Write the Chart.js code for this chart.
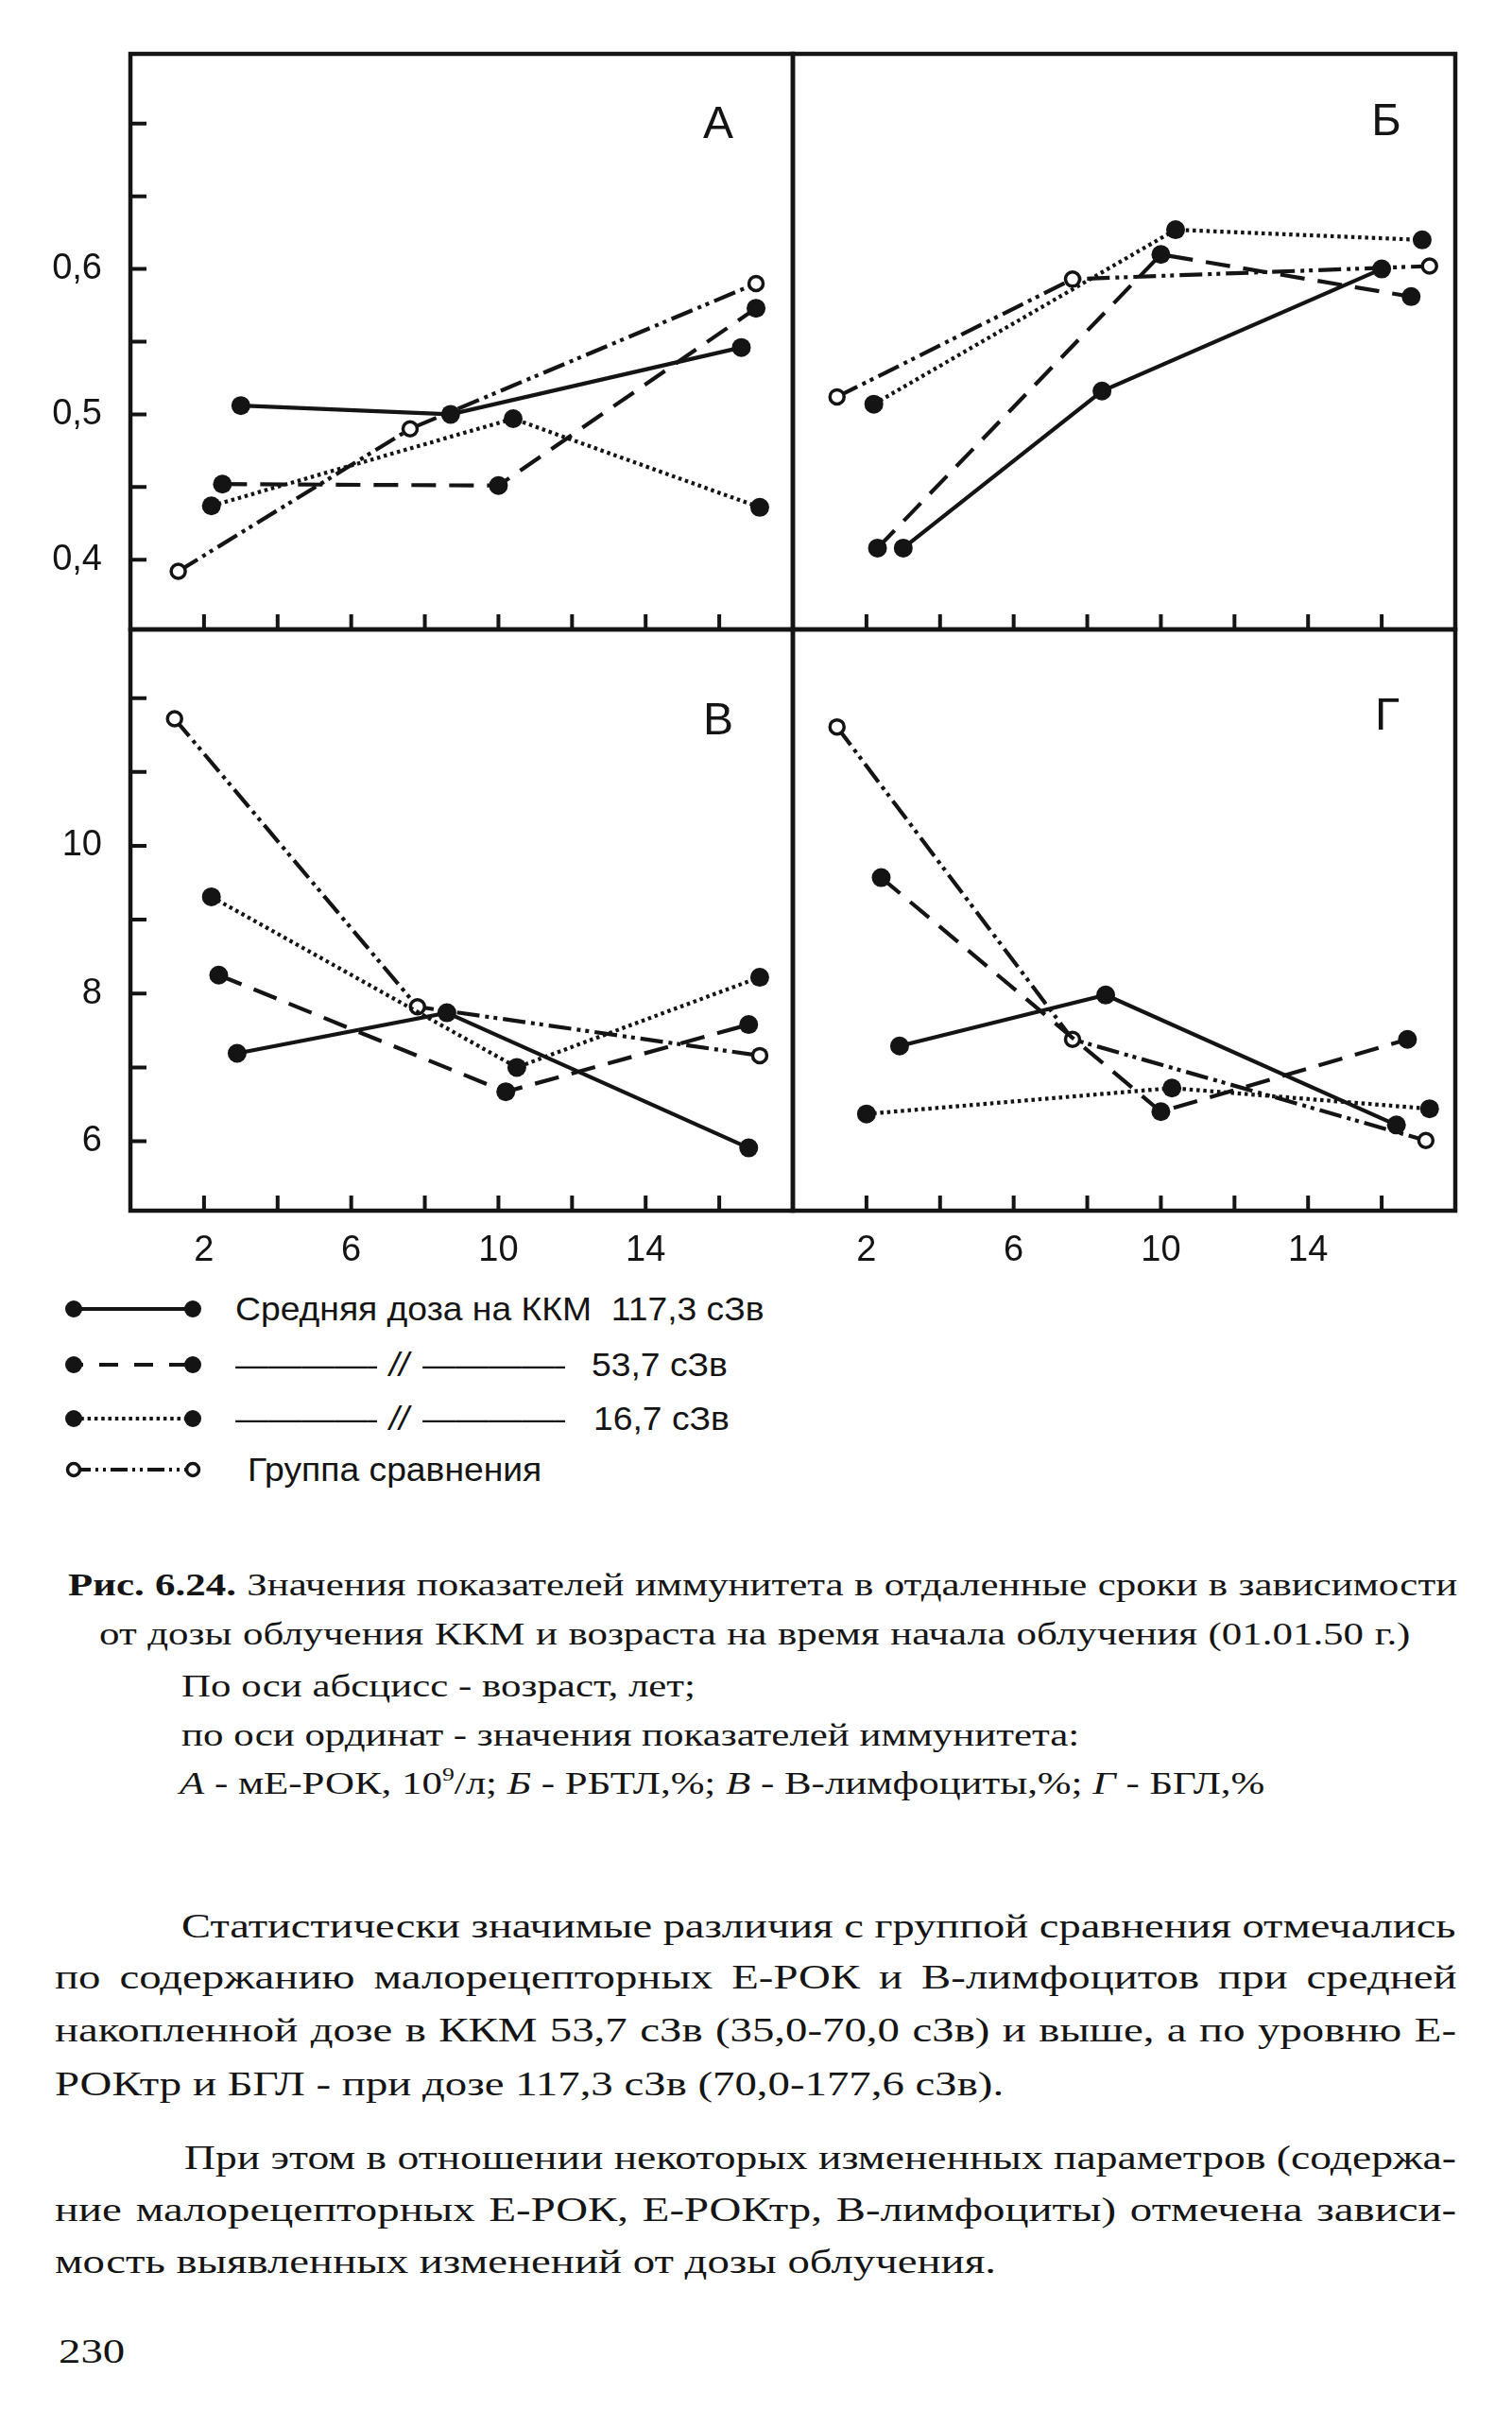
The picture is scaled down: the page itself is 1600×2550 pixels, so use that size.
<!DOCTYPE html>
<html lang="ru"><head><meta charset="utf-8">
<script src="https://cdn.jsdelivr.net/npm/chart.js@4.4.1/dist/chart.umd.min.js"></script>
<style>
html,body{margin:0;padding:0;background:#fff}
body{width:1600px;height:2550px;position:relative;overflow:hidden;color:#141414}
canvas.pn{position:absolute}
.let{position:absolute;font-family:"Liberation Sans",Arial,sans-serif;font-size:48px;line-height:48px;transform:translateX(-50%)}
.lg{position:absolute;font-family:"Liberation Sans",Arial,sans-serif;font-size:35px;line-height:40px;white-space:nowrap;transform:scaleX(1.065);transform-origin:0 50%}
.dl{position:absolute;overflow:hidden;white-space:nowrap;font-family:"Liberation Sans",Arial,sans-serif;font-size:35px;line-height:40px}
.sw{position:absolute}
.tx{position:absolute;font-family:"Liberation Serif","Times New Roman",serif;white-space:nowrap;line-height:40px;transform-origin:0 50%}
.cap{font-size:33px}
.bd{font-size:36px}
sup{font-size:0.6em;line-height:0;vertical-align:0.7em}
</style></head><body>
<canvas id="pA" class="pn" width="842" height="670" style="left:0;top:0"></canvas>
<canvas id="pB" class="pn" width="764" height="670" style="left:836px;top:0"></canvas>
<canvas id="pV" class="pn" width="842" height="700" style="left:0;top:662px"></canvas>
<canvas id="pG" class="pn" width="764" height="700" style="left:836px;top:662px"></canvas>

<div class="let" style="left:760px;top:106px">А</div>
<div class="let" style="left:1467px;top:103px">Б</div>
<div class="let" style="left:760px;top:737px">В</div>
<div class="let" style="left:1468px;top:732px">Г</div>

<svg class="sw" style="left:64px;top:1369px" width="156" height="32">
 <line x1="14" y1="16" x2="140" y2="16" stroke="#141414" stroke-width="3.8"/>
 <circle cx="14" cy="16" r="9" fill="#141414"/><circle cx="140" cy="16" r="9" fill="#141414"/>
</svg>
<svg class="sw" style="left:64px;top:1428px" width="156" height="32">
 <line x1="14" y1="16" x2="140" y2="16" stroke="#141414" stroke-width="4" stroke-dasharray="10 17 20 17 20 17 20 17"/>
 <circle cx="14" cy="16" r="9" fill="#141414"/><circle cx="140" cy="16" r="9" fill="#141414"/>
</svg>
<svg class="sw" style="left:64px;top:1485px" width="156" height="32">
 <line x1="14" y1="16" x2="140" y2="16" stroke="#141414" stroke-width="4" stroke-dasharray="3.5 3.8"/>
 <circle cx="14" cy="16" r="9" fill="#141414"/><circle cx="140" cy="16" r="9" fill="#141414"/>
</svg>
<svg class="sw" style="left:64px;top:1539px" width="156" height="32">
 <line x1="14" y1="16" x2="140" y2="16" stroke="#141414" stroke-width="4" stroke-dasharray="18 5 3 5 3 5"/>
 <circle cx="14" cy="16" r="6.5" fill="#fff" stroke="#141414" stroke-width="3.5"/><circle cx="140" cy="16" r="6.5" fill="#fff" stroke="#141414" stroke-width="3.5"/>
</svg>

<div class="lg" style="left:249px;top:1365px">Средняя доза на ККМ&nbsp; 117,3 сЗв</div>
<div class="dl" style="left:249px;top:1424px;width:150px">——————</div>
<div class="lg" style="left:412px;top:1424px"><i>//</i></div>
<div class="dl" style="left:447px;top:1424px;width:151px">——————</div>
<div class="lg" style="left:626px;top:1424px">53,7 сЗв</div>
<div class="dl" style="left:249px;top:1481px;width:150px">——————</div>
<div class="lg" style="left:412px;top:1481px"><i>//</i></div>
<div class="dl" style="left:447px;top:1481px;width:151px">——————</div>
<div class="lg" style="left:628px;top:1481px">16,7 сЗв</div>
<div class="lg" style="left:262px;top:1535px">Группа сравнения</div>

<div class="tx cap" data-w="1470" style="left:72px;top:1657px"><b>Рис. 6.24.</b> Значения показателей иммунитета в отдаленные сроки в зависимости</div>
<div class="tx cap" data-w="1388" style="left:105px;top:1709px">от дозы облучения ККМ и возраста на время начала облучения (01.01.50 г.)</div>
<div class="tx cap" style="left:192px;top:1764px">По оси абсцисс - возраст, лет;</div>
<div class="tx cap" style="left:192px;top:1816px">по оси ординат - значения показателей иммунитета:</div>
<div class="tx cap" style="left:190px;top:1867px"><i>А</i> - мЕ-РОК, 10<sup>9</sup>/л; <i>Б</i> - РБТЛ,%; <i>В</i> - В-лимфоциты,%; <i>Г</i> - БГЛ,%</div>

<div class="tx bd" data-w="1349" style="left:192px;top:2018px">Статистически значимые различия с группой сравнения отмечались</div>
<div class="tx bd" data-w="1483" style="left:58px;top:2072px">по содержанию малорецепторных Е-РОК и В-лимфоцитов при средней</div>
<div class="tx bd" data-w="1483" style="left:58px;top:2128px">накопленной дозе в ККМ 53,7 сЗв (35,0-70,0 сЗв) и выше, а по уровню Е-</div>
<div class="tx bd" style="left:58px;top:2185px">РОКтр и БГЛ - при дозе 117,3 сЗв (70,0-177,6 сЗв).</div>
<div class="tx bd" data-w="1346" style="left:195px;top:2263px">При этом в отношении некоторых измененных параметров (содержа-</div>
<div class="tx bd" data-w="1483" style="left:58px;top:2318px">ние малорецепторных Е-РОК, Е-РОКтр, В-лимфоциты) отмечена зависи-</div>
<div class="tx bd" style="left:58px;top:2373px">мость выявленных изменений от дозы облучения.</div>
<div class="tx bd" style="left:62px;top:2468px">230</div>

<script>
// ---- axis ticks ----
const ageTicks = [2, 4, 6, 8, 10, 12, 14, 16];
const ageTickLabels = ['2', '', '6', '', '10', '', '14', ''];
const topTicks = [0.4, 0.45, 0.5, 0.55, 0.6, 0.65, 0.7];
const topTickLabels = ['0,4', '', '0,5', '', '0,6', '', ''];
const bottomTicks = [6, 7, 8, 9, 10, 11, 12];
const bottomTickLabels = ['6', '', '8', '', '10', '', ''];

const seriesNames = ['Средняя доза на ККМ 117,3 сЗв', '53,7 сЗв', '16,7 сЗв', 'Группа сравнения'];

// ---- Panel А: мЕ-РОК, 10^9/л ----
const ageA117 = [3.0, 8.7, 16.6],  valA117 = [0.506, 0.500, 0.546];
const ageA54  = [2.5, 10.0, 17.0], valA54  = [0.452, 0.451, 0.573];
const ageA17  = [2.2, 10.4, 17.1], valA17  = [0.437, 0.497, 0.436];
const ageAcmp = [1.3, 7.6, 17.0],  valAcmp = [0.392, 0.490, 0.590];

// ---- Panel Б: РБТЛ, % ----
const ageB117 = [3.0, 8.4, 16.0],  valB117 = [0.408, 0.516, 0.600];
const ageB54  = [2.3, 10.0, 16.8], valB54  = [0.408, 0.610, 0.581];
const ageB17  = [2.2, 10.4, 17.1], valB17  = [0.507, 0.627, 0.620];
const ageBcmp = [1.2, 7.6, 17.3],  valBcmp = [0.512, 0.593, 0.602];

// ---- Panel В: В-лимфоциты, % ----
const ageV117 = [2.9, 8.6, 16.8],  valV117 = [7.19, 7.74, 5.91];
const ageV54  = [2.4, 10.2, 16.8], valV54  = [8.25, 6.67, 7.58];
const ageV17  = [2.2, 10.5, 17.1], valV17  = [9.31, 7.00, 8.22];
const ageVcmp = [1.2, 7.8, 17.1],  valVcmp = [11.72, 7.82, 7.16];

// ---- Panel Г: БГЛ, % ----
const ageG117 = [2.9, 8.5, 16.4],  valG117 = [7.29, 7.98, 6.22];
const ageG54  = [2.4, 10.0, 16.7], valG54  = [9.57, 6.40, 7.38];
const ageG17  = [2.0, 10.3, 17.3], valG17  = [6.37, 6.72, 6.44];
const ageGcmp = [1.2, 7.6, 17.2],  valGcmp = [11.61, 7.38, 6.01];

const INK = '#141414';
const STYLES = [
  {dash: [], open: false},
  {dash: [26, 14], open: false},
  {dash: [3.5, 3.8], open: false},
  {dash: [24, 6, 4, 5, 4, 6], open: true}
];

function dataset(ages, vals, k) {
  const s = STYLES[k];
  return {
    label: seriesNames[k],
    data: ages.map((x, i) => ({x: x, y: vals[i]})),
    borderColor: INK, borderWidth: 4.2, borderDash: s.dash, tension: 0, fill: false,
    pointRadius: s.open ? 7.5 : 10, pointBorderWidth: s.open ? 3.5 : 0,
    pointBackgroundColor: s.open ? '#fff' : INK, pointBorderColor: INK, pointStyle: 'circle'
  };
}

const framePlugin = {
  id: 'frame',
  beforeDatasetsDraw(chart, args, o) {
    const ctx = chart.ctx, a = chart.chartArea, xs = chart.scales.x, ys = chart.scales.y;
    ctx.save();
    ctx.strokeStyle = INK; ctx.setLineDash([]);
    ctx.lineWidth = 4;
    ctx.beginPath();
    if (o.yTicks) for (const v of o.yTicks) { const p = ys.getPixelForValue(v); ctx.moveTo(a.left, p); ctx.lineTo(a.left + 17, p); }
    for (const v of ageTicks) {
      const p = xs.getPixelForValue(v);
      ctx.moveTo(p, a.bottom); ctx.lineTo(p, a.bottom - 16);
    }
    ctx.stroke();
    ctx.lineWidth = 4.5;
    ctx.strokeRect(a.left, a.top, a.right - a.left, a.bottom - a.top);
    ctx.restore();
  }
};

const tickFont = {family: 'Liberation Sans', size: 38};
function noPad(sc) { sc.paddingTop = 0; sc.paddingBottom = 0; sc.paddingLeft = 0; sc.paddingRight = 0; }

function panel(id, c) {
  return new Chart(document.getElementById(id), {
    type: 'line',
    data: {datasets: c.series.map((s, k) => dataset(s[0], s[1], k))},
    options: {
      responsive: false, animation: false, events: [],
      layout: {padding: c.pad, autoPadding: false},
      plugins: {legend: {display: false}, tooltip: {enabled: false},
        frame: {yTicks: c.showY ? c.yTicks : null}},
      scales: {
        x: {type: 'linear', min: 0, max: 18,
          afterBuildTicks: sc => { sc.ticks = ageTicks.map(v => ({value: v})); },
          afterFit: sc => { sc.height = c.xH; noPad(sc); },
          grid: {display: false, drawTicks: false}, border: {display: false},
          ticks: {display: c.showX, autoSkip: false, maxRotation: 0, padding: 20, font: tickFont, color: INK,
            callback: (v, i) => ageTickLabels[i]}},
        y: {type: 'linear', min: c.yMin, max: c.yMax,
          afterBuildTicks: sc => { sc.ticks = c.yTicks.map(v => ({value: v})); },
          afterFit: sc => { sc.width = c.yW; noPad(sc); },
          grid: {display: false, drawTicks: false}, border: {display: false},
          ticks: {display: c.showY, autoSkip: false, padding: 30, font: tickFont, color: INK,
            callback: (v, i) => c.yLabels[i]}}
      }
    },
    plugins: [framePlugin]
  });
}

panel('pA', {series: [[ageA117, valA117], [ageA54, valA54], [ageA17, valA17], [ageAcmp, valAcmp]],
  yMin: 0.352, yMax: 0.748, yTicks: topTicks, yLabels: topTickLabels, showY: true, showX: false,
  pad: {top: 57, right: 3, bottom: 4, left: 0}, yW: 138, xH: 0});
panel('pB', {series: [[ageB117, valB117], [ageB54, valB54], [ageB17, valB17], [ageBcmp, valBcmp]],
  yMin: 0.352, yMax: 0.748, yTicks: topTicks, yLabels: topTickLabels, showY: false, showX: false,
  pad: {top: 57, right: 60, bottom: 4, left: 0}, yW: 3, xH: 0});
panel('pV', {series: [[ageV117, valV117], [ageV54, valV54], [ageV17, valV17], [ageVcmp, valVcmp]],
  yMin: 5.06, yMax: 12.93, yTicks: bottomTicks, yLabels: bottomTickLabels, showY: true, showX: true,
  pad: {top: 4, right: 3, bottom: 0, left: 0}, yW: 138, xH: 81});
panel('pG', {series: [[ageG117, valG117], [ageG54, valG54], [ageG17, valG17], [ageGcmp, valGcmp]],
  yMin: 5.06, yMax: 12.93, yTicks: bottomTicks, yLabels: bottomTickLabels, showY: false, showX: true,
  pad: {top: 4, right: 60, bottom: 0, left: 0}, yW: 3, xH: 81});

// book text: horizontally stretched serif; justified lines fitted by word spacing,
// or by a slightly smaller horizontal stretch when the line is naturally too long
const SX = 1.3;
document.querySelectorAll('.tx').forEach(el => {
  let sx = SX;
  const tw = parseFloat(el.dataset.w);
  if (tw) {
    const nat = el.offsetWidth;
    const spaces = (el.textContent.trim().match(/ /g) || []).length;
    const extra = tw / SX - nat;
    if (extra >= 0) {
      if (spaces) el.style.wordSpacing = (extra / spaces) + 'px';
    } else {
      sx = tw / nat;
    }
  }
  el.style.transform = 'scaleX(' + sx + ')';
});
</script>
</body></html>
